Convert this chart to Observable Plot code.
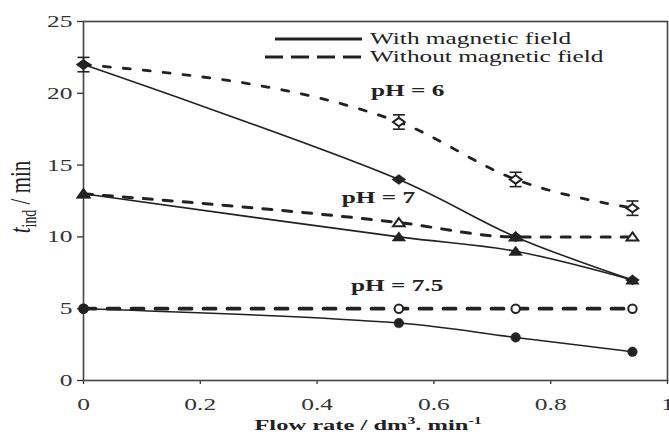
<!DOCTYPE html>
<html>
<head>
<meta charset="utf-8">
<script src="https://cdn.jsdelivr.net/npm/d3@7"></script>
<script src="https://cdn.jsdelivr.net/npm/@observablehq/plot@0.6"></script>
<style>
  body { margin: 0; background: #fff; }
  #chart svg { display: block; }
</style>
</head>
<body>
<div id="chart"></div>
<script>
// Induction time vs. flow rate at three pH values, with and without a magnetic field
const flowRates = [0, 0.54, 0.74, 0.94];
const ph6With = [22, 14, 10, 7];
const ph6Without = [22, 18, 14, 12];
const ph6WithoutErr = [0.5, 0.5, 0.5, 0.5];
const ph7With = [13, 10, 9, 7];
const ph7Without = [13, 11, 10, 10];
const ph75With = [5, 4, 3, 2];
const ph75Without = [5, 5, 5, 5];

const xTicks = [0, 0.2, 0.4, 0.6, 0.8, 1];
const xTickLabels = ["0", "0.2", "0.4", "0.6", "0.8", "1"];
const yTicks = [0, 5, 10, 15, 20, 25];
const legendLabels = ["With magnetic field", "Without magnetic field"];
const phLabels = ["pH = 6", "pH = 7", "pH = 7.5"];
const phLabelFlow = [0.555, 0.505, 0.537];
const phLabelTime = [20.2, 12.7, 6.6];

const series = (values, err) =>
  values.map((t, i) => ({flow: flowRates[i], t, err: err ? err[i] : 0}));

const s6w = series(ph6With), s6o = series(ph6Without, ph6WithoutErr);
const s7w = series(ph7With), s7o = series(ph7Without);
const s75w = series(ph75With), s75o = series(ph75Without);
const labels = phLabels.map((text, i) => ({text, flow: phLabelFlow[i], t: phLabelTime[i]}));

// marker shapes (slightly wide, like the printed figure)
const rOf = size => Math.sqrt(size / Math.PI);
const wideDiamond = {draw(ctx, size) { const r = rOf(size);
  ctx.moveTo(-1.4 * r, 0); ctx.lineTo(0, -r); ctx.lineTo(1.4 * r, 0); ctx.lineTo(0, r); ctx.closePath(); }};
const wideTriangle = {draw(ctx, size) { const r = rOf(size);
  ctx.moveTo(0, -r); ctx.lineTo(1.3 * r, 0.8 * r); ctx.lineTo(-1.3 * r, 0.8 * r); ctx.closePath(); }};
const cap = {draw(ctx, size) { const r = rOf(size); ctx.moveTo(-r, 0); ctx.lineTo(r, 0); }};

const ink = "#222";
const solid = {x: "flow", y: "t", curve: "catmull-rom", stroke: ink, strokeWidth: 1.6};
const dashed = (dash, w) => ({x: "flow", y: "t", curve: "monotone-x", stroke: ink, strokeWidth: w, strokeDasharray: dash});
const open = (symbol, r) => ({x: "flow", y: "t", symbol, r, fill: "white", stroke: ink, strokeWidth: 2});
const filled = (symbol, r) => ({x: "flow", y: "t", symbol, r, fill: ink, stroke: ink, strokeWidth: 0.5});

const plot = Plot.plot({
  width: 669,
  height: 436,
  marginLeft: 83,
  marginRight: 2,
  marginTop: 21,
  marginBottom: 56,
  style: {fontFamily: "'Liberation Serif', 'Times New Roman', serif", fontSize: "17px", color: "#333", background: "#fff"},
  x: {domain: [0, 1]},
  y: {domain: [0, 25]},
  marks: [
    Plot.axisX({ticks: xTicks, tickFormat: d => xTickLabels[xTicks.indexOf(d)], tickSize: 4, tickPadding: 13, label: null, strokeWidth: 1.3}),
    Plot.axisY({ticks: yTicks, tickSize: 6, tickPadding: 5, label: null, strokeWidth: 1.3}),
    Plot.frame({stroke: "#444", strokeWidth: 1.6}),
    // without magnetic field
    Plot.line(s6o, dashed("7,13", 2.8)),
    Plot.line(s7o, dashed("9,11", 3)),
    Plot.line(s75o, dashed("12,12", 3.8)),
    // with magnetic field
    Plot.line(s6w, solid),
    Plot.line(s7w, solid),
    Plot.line(s75w, solid),
    // error bars for pH 6 without field
    Plot.ruleX(s6o, {x: "flow", y1: d => d.t - d.err, y2: d => d.t + d.err, stroke: ink, strokeWidth: 1.5}),
    Plot.dot(s6o, {x: "flow", y: d => d.t - d.err, symbol: cap, r: 6, fill: "none", stroke: ink, strokeWidth: 1.6}),
    Plot.dot(s6o, {x: "flow", y: d => d.t + d.err, symbol: cap, r: 6, fill: "none", stroke: ink, strokeWidth: 1.6}),
    // open markers
    Plot.dot(s6o, open(wideDiamond, 4.2)),
    Plot.dot(s7o, open(wideTriangle, 4.5)),
    Plot.dot(s75o, open("circle", 4.2)),
    // filled markers
    Plot.dot(s6w, filled(wideDiamond, 5)),
    Plot.dot(s7w, filled(wideTriangle, 5.2)),
    Plot.dot(s75w, filled("circle", 4.8)),
    // pH annotations
    Plot.text(labels, {x: "flow", y: "t", text: "text", fontWeight: "bold", fontSize: 16, fill: "#222", className: "stretch"})
  ]
});

document.getElementById("chart").append(plot);

const svg = d3.select(plot);

// legend
const legend = svg.append("g").attr("stroke", ink);
legend.append("line").attr("x1", 275).attr("x2", 362).attr("y1", 39).attr("y2", 39).attr("stroke-width", 2.8);
legend.append("line").attr("x1", 265).attr("x2", 362).attr("y1", 57).attr("y2", 57).attr("stroke-width", 3).attr("stroke-dasharray", "18,8");
legendLabels.forEach((txt, i) => {
  svg.append("text").attr("class", "stretch").attr("x", 370).attr("y", 44 + i * 18)
    .attr("text-anchor", "start").attr("fill", "#222").attr("font-size", 16).text(txt);
});

// axis titles
const xt = svg.append("text").attr("class", "stretch").attr("x", 368).attr("y", 430)
  .attr("text-anchor", "middle").attr("font-weight", "bold").attr("font-size", 15.5).attr("fill", "#222");
xt.append("tspan").text("Flow rate / dm");
xt.append("tspan").attr("font-size", 10).attr("dy", -6).text("3");
xt.append("tspan").attr("dy", 6).text(". min");
xt.append("tspan").attr("font-size", 10).attr("dy", -6).text("-1");

// rotated title, widened across its glyph height
const yt = svg.append("text").attr("transform", "translate(30,197) scale(1.45,1) rotate(-90)")
  .attr("text-anchor", "middle").attr("font-size", 21).attr("fill", "#222");
yt.append("tspan").attr("font-style", "italic").text("t");
yt.append("tspan").attr("font-size", 14).attr("dy", 4).text("ind");
yt.append("tspan").attr("dy", -4).text(" / min");

// widen horizontal text
const widen = 1.5;
svg.selectAll("g[aria-label='x-axis tick label'] text, g[aria-label='y-axis tick label'] text, .stretch text, text.stretch")
  .each(function() {
    const len = this.getComputedTextLength();
    if (len > 0) {
      const k = this.classList.contains("stretch") || this.parentNode.classList.contains("stretch") ? 1.58 : widen;
      this.setAttribute("textLength", len * k);
      this.setAttribute("lengthAdjust", "spacingAndGlyphs");
    }
  });
</script>
</body>
</html>
